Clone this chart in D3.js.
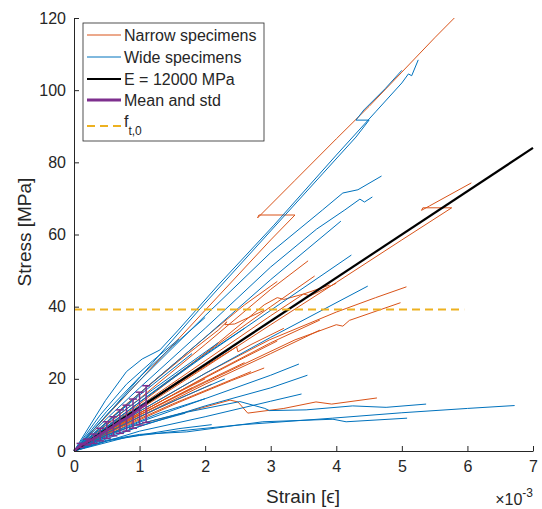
<!DOCTYPE html>
<html>
<head>
<meta charset="utf-8">
<script src="https://cdn.jsdelivr.net/npm/d3@7"></script>
<style>
  body { margin: 0; background: #fff; }
  text { font-family: "Liberation Sans", Arial, sans-serif; fill: #262626; }
</style>
</head>
<body>
<div id="chart-area"></div>
<script>
// strain in 1e-3, stress in MPa
var narrowCurves = [
  [[0,0],[1,19.5],[2,39],[3,58.5],[3.37,65.4],[2.82,65.4],[2.8,64.6],[3.37,75],[4.0,86.5],[4.5,95.5],[5.0,105],[5.5,114.5],[5.8,120]],
  [[0,0],[1,11.5],[2,23.2],[3,35],[4,46.7],[5,58.5],[5.76,67.4],[5.32,67.4],[5.3,66.7],[5.42,67.9],[6.06,74.3]],
  [[0,0],[1,14.5],[2,29.5],[3,44.8],[3.57,52.7]],
  [[0,0],[1,13.5],[2,27],[3,40],[3.67,48.5]],
  [[0,0],[1,13],[2,27],[2.9,40.5],[3.1,42.5],[3.2,42],[3.5,43.5],[3.9,46]],
  [[0,0],[1,11],[2,21.5],[2.98,30.8],[4,38.5],[4.6,42.5],[5.07,45.5]],
  [[0,0],[1,10],[2,19],[3.37,30.8],[4.0,35],[4.1,34.6],[4.2,36.2],[4.98,41.1]],
  [[0,0],[0.5,4.5],[1,7.5],[1.62,10.3],[2.38,14.1],[2.5,13.6],[2.65,10.5],[3.2,11.8],[3.69,13.6],[3.93,13],[4.62,14.7]],
  [[0,0],[0.8,13],[1.6,25],[2.2,33.5],[2.33,35.8],[2.3,35],[2.45,35.2],[2.9,39]],
  [[0,0],[1,12],[2,23.5],[2.48,28.9],[2.5,27.5],[2.7,29.5],[3.2,34]],
  [[0,0],[1,10.5],[2,20.5],[3,30],[3.75,36.3]],
  [[0,0],[1,9.5],[2,18.5],[3,27],[3.75,33.5]],
  [[0,0],[0.8,7],[1.6,13.5],[2.4,19.5],[2.9,23]],
  [[0,0],[0.7,7.5],[1.4,14.5],[2.0,20]],
  [[0,0],[0.5,5.5],[1.1,11],[1.8,17.5]],
  [[0,0],[0.6,7.5],[1.2,14.5],[1.6,19.5]],
  [[0,0],[1,12.5],[2,25],[3,37.5],[3.5,43.5],[3.6,43],[4.0,46.5]],
  [[0,0],[0.7,6.5],[1.5,13],[2.3,19],[2.7,22]],
  [[0,0],[0.8,8.5],[1.6,16.5],[2.5,25],[3.1,30.5]],
  [[0,0],[0.9,9],[1.8,17.5],[2.6,24.5]],
  [[0,0],[0.6,5.8],[1.3,12],[2.1,18.5]],
  [[0,0],[1,16],[2,31.5],[2.6,40.5],[3.1,47]]
];

var wideCurves = [
  [[0,0],[0.48,14],[0.8,22],[1.04,25.5],[1.31,28],[1.59,33.5],[2.2,46],[3.05,62.6],[4.0,82],[4.6,94],[5.0,102],[5.1,104.5],[5.15,104],[5.25,108.4]],
  [[0,0],[0.6,12],[1.2,24.5],[2.0,41],[3.0,61],[3.8,77],[4.3,87],[4.5,91.7],[4.3,91.7],[4.42,94.5],[4.75,100.5],[5.0,105.5]],
  [[0,0],[0.5,10],[1,19.5],[2,37.5],[3,55],[3.79,66.8],[4.1,71.5],[4.33,72.4],[4.69,76.2]],
  [[0,0],[0.5,9],[1,17.5],[2,34],[3,51],[3.7,61.5],[4.13,66.8],[4.36,69.8],[4.43,69],[4.55,70.4]],
  [[0,0],[1,16],[2,31.5],[3,47.5],[4.07,63.7]],
  [[0,0],[1,13.5],[2,26.5],[3,39],[4.23,54.3]],
  [[0,0],[1,11],[2,21.5],[3,31.5],[4.48,45.7]],
  [[0,0],[1,8],[2,14.5],[3,21],[3.43,24.1]],
  [[0,0],[1,6.8],[2,12.5],[3,17.5],[3.56,21]],
  [[0,0],[1,5.5],[2,9.5],[3,13.8],[3.47,15.8]],
  [[0,0],[0.5,4.5],[1.0,7.5],[1.62,10.4],[2.53,13.7],[2.91,11.8],[2.98,11.2],[3.54,11.4],[4.25,12.5],[4.76,12.1],[5.37,13.0]],
  [[0,0],[0.5,2.8],[1.0,4.3],[1.62,5.6],[2.5,7.2],[3.94,9.1],[5.0,10.6],[6.0,11.8],[6.72,12.6]],
  [[0,0],[0.5,3],[1,4.6],[1.72,5.3],[2.88,8.1],[3.95,8.8],[4.15,8.1],[5.08,9.1]],
  [[0,0],[0.5,6.5],[1,12.5],[1.5,18]],
  [[0,0],[0.5,8],[1,15.5],[1.8,27]],
  [[0,0],[0.6,9],[1.2,17],[2.2,30]],
  [[0,0],[0.5,5],[1,9.5],[1.6,14.5],[2.3,20]],
  [[0,0],[0.7,6],[1.3,10.5],[2.0,14.5]],
  [[0,0],[0.6,4.5],[1.2,8],[1.7,10.5]],
  [[0,0],[0.4,10],[0.8,18.5],[1.2,25],[1.6,31]],
  [[0,0],[0.5,11],[1.0,20.5],[1.5,29],[2.0,37]],
  [[0,0],[0.7,9.5],[1.4,19],[2.1,28],[2.6,34]],
  [[0,0],[0.9,11],[1.8,21.5],[2.4,28.5]],
  [[0,0],[0.8,3.8],[1.6,6.2],[2.1,7.3]]
];

var stiffLine = [[0,0],[7,84]];  // E = 12000 MPa
var ft0 = 39.2;
var ft0Range = [0, 5.95];

var meanStrain = [0.1,0.2,0.3,0.4,0.5,0.6,0.7,0.8,0.9,1.0,1.1];
var meanStress = [1.55,2.5,3.4,4.55,5.8,6.85,8.15,9.1,10.35,11.75,13.0];
var stdStress  = [0.55,0.8,1.3,1.75,2.3,2.65,3.25,3.6,4.05,4.55,5.1];

var xTicks = [0,1,2,3,4,5,6,7];
var yTicks = [0,20,40,60,80,100,120];

var legendLabels = ["Narrow specimens","Wide specimens","E = 12000 MPa","Mean and std","f"];

var colNarrow = "#D95319", colWide = "#0072BD", colMean = "#7E2F8E", colFt = "#EDB120";

var margin = { left: 74, top: 18, right: 9, bottom: 58 };
var W = 542, H = 509;
var width = W - margin.left - margin.right;
var height = H - margin.top - margin.bottom;

var svg = d3.select("#chart-area").append("svg")
  .attr("width", W).attr("height", H);
svg.append("rect").attr("width", W).attr("height", H).attr("fill", "#fff");

var g = svg.append("g").attr("transform", "translate(" + margin.left + "," + margin.top + ")");

var x = d3.scaleLinear().domain([0, 7]).range([0, width]);
var y = d3.scaleLinear().domain([0, 120]).range([height, 0]);

var line = d3.line().x(function(d){ return x(d[0]); }).y(function(d){ return y(d[1]); });

g.selectAll(".narrow").data(narrowCurves).enter().append("path")
  .attr("class","narrow").attr("d", line)
  .attr("fill","none").attr("stroke", colNarrow).attr("stroke-width", 1);

g.selectAll(".wide").data(wideCurves).enter().append("path")
  .attr("class","wide").attr("d", line)
  .attr("fill","none").attr("stroke", colWide).attr("stroke-width", 1);

g.append("path").datum(stiffLine).attr("d", line)
  .attr("fill","none").attr("stroke","#000").attr("stroke-width", 2.2);

// mean and std
var meanPts = meanStrain.map(function(s,i){ return [s, meanStress[i]]; });
g.append("path").datum([[0,0]].concat(meanPts)).attr("d", line)
  .attr("fill","none").attr("stroke", colMean).attr("stroke-width", 2.5);
var eb = g.selectAll(".eb").data(meanStrain).enter().append("g").attr("class","eb");
eb.append("line")
  .attr("x1", function(d){ return x(d); }).attr("x2", function(d){ return x(d); })
  .attr("y1", function(d,i){ return y(meanStress[i]-stdStress[i]); })
  .attr("y2", function(d,i){ return y(meanStress[i]+stdStress[i]); })
  .attr("stroke", colMean).attr("stroke-width", 1.5);
[-1, 1].forEach(function(sgn){
  eb.append("line")
    .attr("x1", function(d){ return x(d) - 4; }).attr("x2", function(d){ return x(d) + 4; })
    .attr("y1", function(d,i){ return y(meanStress[i]+sgn*stdStress[i]); })
    .attr("y2", function(d,i){ return y(meanStress[i]+sgn*stdStress[i]); })
    .attr("stroke", colMean).attr("stroke-width", 1.5);
});

// f_t,0
g.append("line")
  .attr("x1", x(ft0Range[0])).attr("x2", x(ft0Range[1]))
  .attr("y1", y(ft0)).attr("y2", y(ft0))
  .attr("stroke", colFt).attr("stroke-width", 2).attr("stroke-dasharray","8,5");

// axes
var xAxis = d3.axisBottom(x).tickValues(xTicks).tickFormat(d3.format("d"))
  .tickSize(-5).tickPadding(10).tickSizeOuter(0);
var yAxis = d3.axisLeft(y).tickValues(yTicks).tickFormat(d3.format("d"))
  .tickSize(-5).tickPadding(8).tickSizeOuter(0);
var gx = g.append("g").attr("transform","translate(0," + height + ")").call(xAxis);
var gy = g.append("g").call(yAxis);
[gx, gy].forEach(function(a){
  a.select(".domain").attr("stroke","#262626");
  a.selectAll(".tick line").attr("stroke","#262626");
  a.selectAll(".tick text").attr("font-size","16px").attr("fill","#262626")
    .attr("font-family","Liberation Sans, Arial, sans-serif");
});

svg.append("text").attr("x", 303).attr("y", 503).attr("text-anchor","middle")
  .attr("font-size","19px").text("Strain [ϵ]");
svg.append("text").attr("transform","translate(31,232) rotate(-90)").attr("text-anchor","middle")
  .attr("font-size","19px").text("Stress [MPa]");

var ex = svg.append("text").attr("x", 533).attr("y", 505).attr("text-anchor","end").attr("font-size","16px");
ex.append("tspan").text("×10");
ex.append("tspan").attr("dy", -8).attr("font-size","12px").text("-3");

// legend
var leg = svg.append("g").attr("transform","translate(83,23)");
leg.append("rect").attr("width", 181).attr("height", 118)
  .attr("fill","#fff").attr("stroke","#262626").attr("stroke-width", 0.8);
var rowY = [12, 34, 56, 77, 103];
var legStyles = [
  { c: colNarrow, w: 1, dash: null },
  { c: colWide, w: 1, dash: null },
  { c: "#000", w: 2.2, dash: null },
  { c: colMean, w: 3, dash: null },
  { c: colFt, w: 2, dash: "8,5" }
];
legendLabels.forEach(function(lbl, i){
  var ln = leg.append("line").attr("x1", 4).attr("x2", 38)
    .attr("y1", rowY[i]).attr("y2", rowY[i])
    .attr("stroke", legStyles[i].c).attr("stroke-width", legStyles[i].w);
  if (legStyles[i].dash) ln.attr("stroke-dasharray", legStyles[i].dash);
  var t = leg.append("text").attr("x", 41).attr("y", rowY[i] + (i === 4 ? 1 : 6)).attr("font-size","16px");
  t.append("tspan").text(lbl);
  if (i === 4) t.append("tspan").attr("dy", 8).attr("font-size","12px").text("t,0");
});
</script>
</body>
</html>
